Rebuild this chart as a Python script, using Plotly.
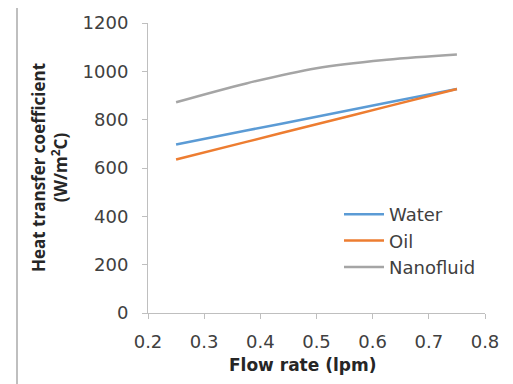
import plotly.graph_objects as go

flow = [0.25, 0.375, 0.5, 0.625, 0.75]
water = [697, 755, 812, 870, 927]
oil = [635, 708, 781, 854, 927]
nanofluid = [872, 950, 1013, 1048, 1070]

x_ticks = [0.2, 0.3, 0.4, 0.5, 0.6, 0.7, 0.8]
y_ticks = [0, 200, 400, 600, 800, 1000, 1200]

# page has an 8px body margin; figure is sized so it fits the 513x384 window
OFF = 8
W, H = 513 - OFF, 384 - OFF
L, R, T, B = 148 - OFF, 513 - 485, 23 - OFF, 384 - 313
wide = "'DejaVu Sans', sans-serif"
narrow = "'Open Sans', sans-serif"
tick_color = "#404040"
title_color = "#262626"

fig = go.Figure()
for name, vals, col in [("Water", water, "#5B9BD5"), ("Oil", oil, "#ED7D31"),
                        ("Nanofluid", nanofluid, "#A5A5A5")]:
    fig.add_trace(go.Scatter(x=flow, y=vals, mode="lines", name=name, legendgroup=name,
                             line=dict(color=col, width=2.5, shape="spline")))

pw = W - L - R
ph = H - T - B

def px_x(p):
    return (p - OFF - L) / pw

def px_y(p):
    return (H - B - (p - OFF)) / ph

fig.update_layout(
    width=W, height=H,
    margin=dict(l=L, r=R, t=T, b=B, autoexpand=False),
    paper_bgcolor="white", plot_bgcolor="white",
    font=dict(family=wide, color=tick_color, size=18),
    showlegend=True,
    legend=dict(x=px_x(339), y=px_y(196), xanchor="left", yanchor="top",
                bgcolor="rgba(0,0,0,0)", font=dict(size=18, color=tick_color, family=wide),
                itemwidth=40, tracegroupgap=0),
    xaxis=dict(range=[0.2, 0.8], tickvals=x_ticks, ticktext=[f"{v:.1f}" for v in x_ticks],
               automargin=False,
               showgrid=False, zeroline=False, showline=True, linecolor="#BFBFBF",
               linewidth=1, ticks="outside", ticklen=5, tickcolor="#BFBFBF",
               tickfont=dict(size=18, color=tick_color, family=wide), ticklabelstandoff=7),
    yaxis=dict(range=[0, 1200], tickvals=y_ticks, showgrid=False, zeroline=False,
               automargin=False,
               showline=True, linecolor="#BFBFBF", linewidth=1, ticks="outside",
               ticklen=5, tickcolor="#BFBFBF", tickfont=dict(size=18, color=tick_color, family=wide),
               ticklabelstandoff=10),
    shapes=[dict(type="rect", xref="paper", yref="paper",
                 x0=px_x(17), x1=px_x(511), y0=px_y(400), y1=px_y(5.5),
                 line=dict(color="#BFBFBF", width=2), fillcolor="rgba(0,0,0,0)")],
    annotations=[
        dict(text="<b>Heat transfer coefficient<br>(W/m<sup>2</sup>C)</b>",
             xref="paper", yref="paper", x=px_x(49), y=px_y(168),
             textangle=-90, showarrow=False, xanchor="center", yanchor="middle",
             font=dict(size=17, color=title_color, family=narrow)),
        dict(text="<b>Flow rate (lpm)</b>",
             xref="paper", yref="paper", x=px_x(302), y=px_y(365),
             showarrow=False, xanchor="center", yanchor="middle",
             font=dict(size=17, color=title_color, family=wide)),
    ],
)

fig.write_html("out.html")
